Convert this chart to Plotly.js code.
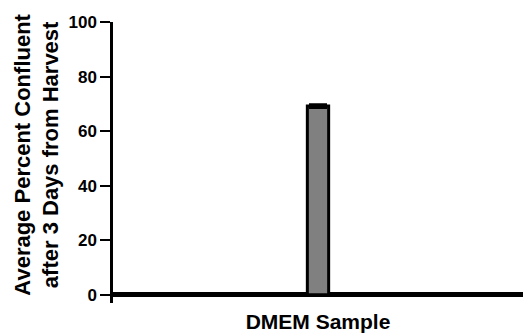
<!DOCTYPE html>
<html><head><script src="https://cdn.plot.ly/plotly-3.0.1.min.js"></script>
<style>body{margin:0}</style></head>
<body><div id="c" style="width:523px;height:336px"></div>
<script>
const categories = ["DMEM Sample"];
const values = [69.2];
const errors = [0.5];
const yTicks = [0, 20, 40, 60, 80, 100];
const xTitle = "DMEM Sample";
const yTitle = "Average Percent Confluent<br>after 3 Days from Harvest";

const F = "Liberation Sans";
Plotly.newPlot("c", [{
  type: "bar", x: categories, y: values, width: 0.052,
  marker: {color: "#808080", line: {color: "#000", width: 3}},
  error_y: {type: "data", array: errors, visible: true, color: "#000", thickness: 3, width: 9}
}], {
  width: 523, height: 336,
  margin: {l: 113, r: 0, t: 22, b: 33},
  paper_bgcolor: "#fff", plot_bgcolor: "#fff",
  showlegend: false,
  xaxis: {showticklabels: false, ticks: "", showgrid: false, showline: false, zeroline: false,
    title: {text: xTitle, font: {family: F, size: 21, weight: "bold", color: "#000"}, standoff: 11}},
  yaxis: {range: [-3, 100], tickvals: yTicks,
    ticks: "outside", ticklen: 10, tickwidth: 2, tickcolor: "#000",
    showline: true, linewidth: 2.5, linecolor: "#000", showgrid: false,
    zeroline: true, zerolinewidth: 4.5, zerolinecolor: "#000",
    tickfont: {family: F, size: 17, weight: "bold", color: "#000"}},
  annotations: [{xref: "paper", yref: "paper", x: -0.186, y: 0.527, xanchor: "center", yanchor: "middle",
    showarrow: false, textangle: -90, text: yTitle,
    font: {family: F, size: 22, weight: "bold", color: "#000"}}]
}, {displayModeBar: false});
</script></body></html>
